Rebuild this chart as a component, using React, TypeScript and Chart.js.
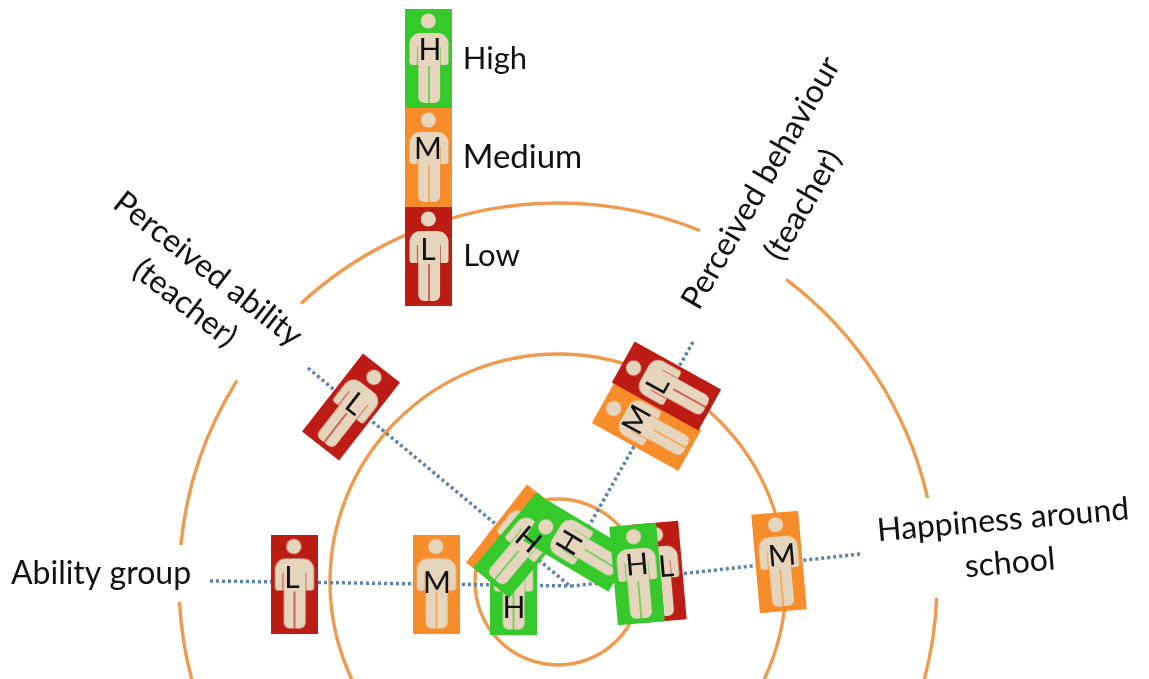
import React, { useEffect, useRef } from "react";
import { Chart, registerables } from "chart.js";

Chart.register(...registerables);

// Concentric rings: centre and radius in picture units, arcs in degrees (clockwise from east)
const ringCentreX = 558;
const ringCentreY = 582;
const ringRadii = [83, 228, 379];
const ringArcs: number[][][] = [
  [[0, 360]],
  [[0, 360]],
  [[-53, -12.8], [2.4, 177], [-174.4, -147.9], [-132.7, -68]],
];

// Dotted spokes: [outer end, hub end]
const spokeAbilityX = [210, 572];
const spokeAbilityY = [581, 586];
const spokeHappinessX = [860, 572];
const spokeHappinessY = [554, 586];
const spokeTeacherAbilityX = [308, 570];
const spokeTeacherAbilityY = [368, 586];
const spokeTeacherBehaviourX = [693, 572];
const spokeTeacherBehaviourY = [342, 556];

// Person markers, in drawing order
const markerX = [428.5, 428.5, 428.5, 294, 436, 513, 515, 523, 578, 659, 637, 779, 351, 646.5, 666.5];
const markerY = [58.5, 157.5, 256.5, 584, 584, 585, 538, 545, 546, 572, 574, 562, 407, 426.5, 386];
const markerRotation = [0, 0, 0, 0, 0, 0, 38, 40, -59, -5, -5, -5, 38, -61, -61];
const markerLevel = ["H", "M", "L", "L", "M", "H", "M", "H", "H", "L", "H", "M", "L", "M", "L"];
const letterX = [430, 428, 428, 292, 437, 514, 0, 528, 570, 666, 637, 782, 355, 637, 658];
const letterY = [50, 149, 250, 578, 583, 608, 0, 540, 543, 567, 565, 556, 404, 420, 385];
const letterShown = [1, 1, 1, 1, 1, 1, 0, 1, 1, 1, 1, 1, 1, 1, 1];

// Text labels
const labelText = [
  "High", "Medium", "Low", "Ability group", "Perceived ability", "(teacher)",
  "Perceived behaviour", "(teacher)", "Happiness around", "school",
];
const labelX = [495, 522.5, 491.5, 101, 208, 185, 761, 803, 1003, 1010];
const labelY = [59, 157, 256, 574, 269, 303, 183, 205, 520, 563];
const labelRotation = [0, 0, 0, 0, 38, 38, -60, -60, -5, -5];
const labelSize = [31, 33, 31, 32, 32, 32, 32, 32, 32, 32];

const FONT = "Lato, 'Open Sans', sans-serif";
const levelColour: Record<string, string> = { H: "#35c92c", M: "#f68d2a", L: "#bc1c14" };
const SPOKE = "#5a82ae";
const RING = "#ee9b50";

function makePerson(bg: string): HTMLCanvasElement {
  const c = document.createElement("canvas");
  c.width = 47;
  c.height = 99;
  const g = c.getContext("2d") as CanvasRenderingContext2D;
  g.fillStyle = bg;
  g.fillRect(0, 0, 47, 99);
  g.filter = "blur(0.6px)";
  g.fillStyle = "#e6d5bd";
  g.beginPath();
  g.arc(23.3, 12, 7.6, 0, Math.PI * 2);
  g.fill();
  g.beginPath();
  g.roundRect(4.5, 24, 39, 32, [11, 11, 3, 3]);
  g.fill();
  g.fillStyle = bg;
  g.globalAlpha = 0.6;
  g.fillRect(11.8, 38, 1.6, 19);
  g.fillRect(34.4, 38, 1.6, 19);
  g.globalAlpha = 1;
  g.fillRect(4, 57, 9, 12);
  g.fillRect(35.5, 57, 9, 12);
  g.fillStyle = "#e6d5bd";
  g.beginPath();
  g.roundRect(13.3, 30, 21.8, 64, [2, 2, 6, 6]);
  g.fill();
  g.fillStyle = bg;
  g.globalAlpha = 0.75;
  g.fillRect(23.2, 57, 1.6, 38);
  g.globalAlpha = 1;
  return c;
}

const drawExtras = {
  id: "drawExtras",
  beforeDatasetsDraw(chart: any) {
    const { ctx, scales } = chart;
    const x = scales.x;
    const y = scales.y;
    ctx.save();
    ctx.strokeStyle = RING;
    ctx.lineWidth = 3.4;
    ctx.lineCap = "butt";
    ringRadii.forEach((r, i) => {
      const px = x.getPixelForValue(ringCentreX + r) - x.getPixelForValue(ringCentreX);
      ringArcs[i].forEach(([a, b]) => {
        ctx.beginPath();
        ctx.arc(
          x.getPixelForValue(ringCentreX),
          y.getPixelForValue(ringCentreY),
          px,
          (a * Math.PI) / 180,
          (b * Math.PI) / 180,
        );
        ctx.stroke();
      });
    });
    ctx.restore();
  },
  afterDatasetsDraw(chart: any) {
    const { ctx, scales } = chart;
    const x = scales.x;
    const y = scales.y;
    ctx.save();
    ctx.fillStyle = "#111111";
    ctx.textAlign = "center";
    ctx.textBaseline = "middle";
    ctx.font = `30px ${FONT}`;
    markerLevel.forEach((lv, i) => {
      if (!letterShown[i]) return;
      ctx.save();
      ctx.translate(x.getPixelForValue(letterX[i]), y.getPixelForValue(letterY[i]));
      ctx.rotate((markerRotation[i] * Math.PI) / 180);
      ctx.fillText(lv, 0, 0);
      ctx.restore();
    });
    labelText.forEach((t, i) => {
      ctx.save();
      ctx.font = `${labelSize[i]}px ${FONT}`;
      ctx.translate(x.getPixelForValue(labelX[i]), y.getPixelForValue(labelY[i]));
      ctx.rotate((labelRotation[i] * Math.PI) / 180);
      ctx.fillText(t, 0, 0);
      ctx.restore();
    });
    ctx.restore();
  },
};

const toPoints = (xs: number[], ys: number[]) => xs.map((v, i) => ({ x: v, y: ys[i] }));

const spoke = (xs: number[], ys: number[]) => ({
  type: "scatter" as const,
  data: toPoints(xs, ys),
  showLine: true,
  borderColor: SPOKE,
  borderWidth: 3.5,
  borderDash: [3, 3],
  pointRadius: 0,
  order: 2,
  clip: false,
});

export default function App() {
  const ref = useRef<HTMLCanvasElement>(null);
  useEffect(() => {
    document.body.style.margin = "0";
    document.body.style.background = "#ffffff";
    const sprites: Record<string, HTMLCanvasElement> = {
      H: makePerson(levelColour.H),
      M: makePerson(levelColour.M),
      L: makePerson(levelColour.L),
    };
    const chart = new Chart(ref.current as HTMLCanvasElement, {
      type: "scatter",
      data: {
        datasets: [
          {
            data: toPoints(markerX, markerY),
            pointStyle: markerLevel.map((l) => sprites[l]),
            rotation: markerRotation,
            pointRadius: 24,
            order: 1,
            clip: false,
          } as any,
          spoke(spokeAbilityX, spokeAbilityY),
          spoke(spokeHappinessX, spokeHappinessY),
          spoke(spokeTeacherAbilityX, spokeTeacherAbilityY),
          spoke(spokeTeacherBehaviourX, spokeTeacherBehaviourY),
        ],
      },
      options: {
        animation: false,
        responsive: false,
        layout: { padding: 0, autoPadding: false },
        plugins: { legend: { display: false }, tooltip: { enabled: false } },
        scales: {
          x: { type: "linear", display: false, min: 0, max: 1149 },
          y: { type: "linear", display: false, min: 0, max: 679, reverse: true },
        },
      },
      plugins: [drawExtras],
    });
    return () => chart.destroy();
  }, []);
  return <canvas ref={ref} width={1149} height={679} style={{ display: "block" }} />;
}
